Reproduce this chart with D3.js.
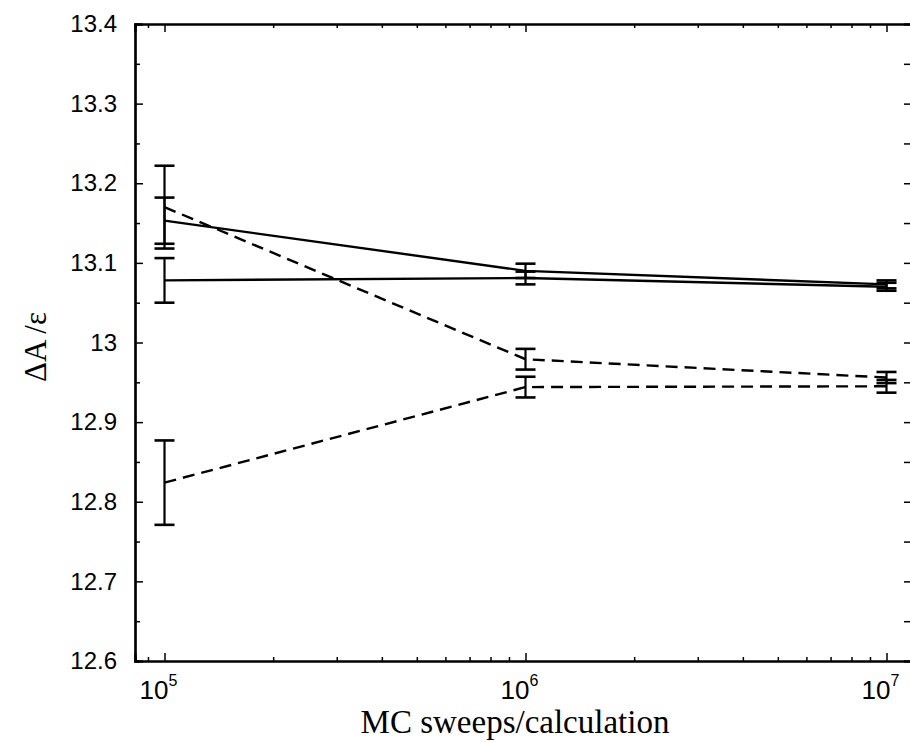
<!DOCTYPE html>
<html>
<head>
<meta charset="utf-8">
<script src="https://cdn.jsdelivr.net/npm/d3@7"></script>
<style>
  body { margin: 0; background: #fff; }
  svg { display: block; }
</style>
</head>
<body>
<script>
// values
const sweeps = [1e5, 1e6, 1e7]
const solidUpper = [13.153, 13.090, 13.073]
const solidUpperErr = [0.029, 0.009, 0.005]
const solidLower = [13.078, 13.081, 13.070]
const solidLowerErr = [0.028, 0.008, 0.005]
const dashUpper = [13.170, 12.979, 12.956]
const dashUpperErr = [0.052, 0.013, 0.007]
const dashLower = [12.824, 12.944, 12.945]
const dashLowerErr = [0.053, 0.013, 0.008]

const yMajor = [12.6, 12.7, 12.8, 12.9, 13.0, 13.1, 13.2, 13.3, 13.4]
const yLabels = ["12.6", "12.7", "12.8", "12.9", "13", "13.1", "13.2", "13.3", "13.4"]
const yMinor = [12.65, 12.75, 12.85, 12.95, 13.05, 13.15, 13.25, 13.35]
const xMajor = [1e5, 1e6, 1e7]
const xExponents = ["5", "6", "7"]

const W = 910, H = 742
const mLeft = 135, mRight = 911, mTop = 24, mBottom = 661

const svg = d3.select("body").append("svg")
  .attr("width", W).attr("height", H)

// keep 1e5 at 164.5px and one decade = 361px
const x = d3.scaleLog()
  .domain([Math.pow(10, 5 - (164.5 - mLeft) / 361), Math.pow(10, 5 + (mRight - 164.5) / 361)])
  .range([mLeft, mRight])

const y = d3.scaleLinear().domain([12.6, 13.4]).range([mBottom, mTop])

// minor log ticks between decades
const xMinor = []
for (let e = 4; e <= 7; e++) {
  for (let m = 2; m <= 9; m++) {
    const v = m * Math.pow(10, e)
    if (v > x.domain()[0] && v < x.domain()[1]) xMinor.push(v)
  }
}

const font = "'Liberation Sans', Arial, Helvetica, sans-serif"
const serif = "'Liberation Serif', 'Times New Roman', Times, serif"

function styleAxis(g) {
  g.select(".domain").attr("stroke", "#000").attr("stroke-width", 2.2)
  g.selectAll(".tick line").attr("stroke", "#000").attr("stroke-width", 1.5)
}

// left axis
svg.append("g")
  .attr("transform", `translate(${mLeft},0)`)
  .call(d3.axisLeft(y).tickValues(yMajor).tickSize(-8).tickPadding(18)
    .tickFormat((d, i) => yLabels[i]))
  .call(styleAxis)
  .call(g => g.selectAll("text").attr("font-family", font).attr("font-size", 24).attr("fill", "#000"))
svg.append("g")
  .attr("transform", `translate(${mLeft},0)`)
  .call(d3.axisLeft(y).tickValues(yMinor).tickSize(-5).tickFormat(""))
  .call(styleAxis)

// right axis (frame edge sits just outside the picture)
svg.append("g")
  .attr("transform", `translate(${mRight},0)`)
  .call(d3.axisRight(y).tickValues(yMajor.concat(yMinor)).tickSize(-7).tickFormat(""))
  .call(styleAxis)

// bottom axis
svg.append("g")
  .attr("transform", `translate(0,${mBottom})`)
  .call(d3.axisBottom(x).tickValues(xMajor).tickSize(-8).tickFormat(""))
  .call(styleAxis)
svg.append("g")
  .attr("transform", `translate(0,${mBottom})`)
  .call(d3.axisBottom(x).tickValues(xMinor).tickSize(-4).tickFormat(""))
  .call(styleAxis)

// top axis
svg.append("g")
  .attr("transform", `translate(0,${mTop})`)
  .call(d3.axisTop(x).tickValues(xMajor).tickSize(-8).tickFormat(""))
  .call(styleAxis)
svg.append("g")
  .attr("transform", `translate(0,${mTop})`)
  .call(d3.axisTop(x).tickValues(xMinor).tickSize(-4).tickFormat(""))
  .call(styleAxis)

// x tick labels with superscript exponent
const xl = svg.append("g").selectAll("text").data(xMajor).join("text")
  .attr("x", d => x(d) - 6)
  .attr("y", 699)
  .attr("text-anchor", "middle")
  .attr("font-family", "'Liberation Sans Narrow', " + font)
  .attr("font-size", 26)
xl.append("tspan").text("10")
xl.append("tspan").attr("dy", -13).attr("font-size", 16).text((d, i) => xExponents[i])

// axis titles
svg.append("text")
  .attr("x", 515).attr("y", 733)
  .attr("text-anchor", "middle")
  .attr("font-family", serif).attr("font-size", 33)
  .text("MC sweeps/calculation")

svg.append("text")
  .attr("transform", "translate(46,347) rotate(-90)")
  .attr("text-anchor", "middle")
  .attr("font-family", serif).attr("font-size", 31)
  .text("ΔA /ε")

// series
const series = [
  { vals: solidUpper, err: solidUpperErr, dash: null },
  { vals: solidLower, err: solidLowerErr, dash: null },
  { vals: dashUpper, err: dashUpperErr, dash: "12,7" },
  { vals: dashLower, err: dashLowerErr, dash: "12,7" }
]

const line = d3.line().x(d => x(d[0])).y(d => y(d[1]))

const plot = svg.append("g")
series.forEach(s => {
  const pts = sweeps.map((v, i) => [v, s.vals[i], s.err[i]])
  plot.append("path")
    .datum(pts)
    .attr("d", line)
    .attr("fill", "none")
    .attr("stroke", "#000")
    .attr("stroke-width", 2.4)
    .attr("stroke-dasharray", s.dash)

  const eb = plot.append("g").selectAll("g").data(pts).join("g")
  eb.append("line")
    .attr("x1", d => x(d[0])).attr("x2", d => x(d[0]))
    .attr("y1", d => y(d[1] - d[2])).attr("y2", d => y(d[1] + d[2]))
    .attr("stroke", "#000").attr("stroke-width", 2.2)
  eb.append("line")
    .attr("x1", d => x(d[0]) - 10).attr("x2", d => x(d[0]) + 10)
    .attr("y1", d => y(d[1] + d[2])).attr("y2", d => y(d[1] + d[2]))
    .attr("stroke", "#000").attr("stroke-width", 2.6)
  eb.append("line")
    .attr("x1", d => x(d[0]) - 10).attr("x2", d => x(d[0]) + 10)
    .attr("y1", d => y(d[1] - d[2])).attr("y2", d => y(d[1] - d[2]))
    .attr("stroke", "#000").attr("stroke-width", 2.6)
})
</script>
</body>
</html>
